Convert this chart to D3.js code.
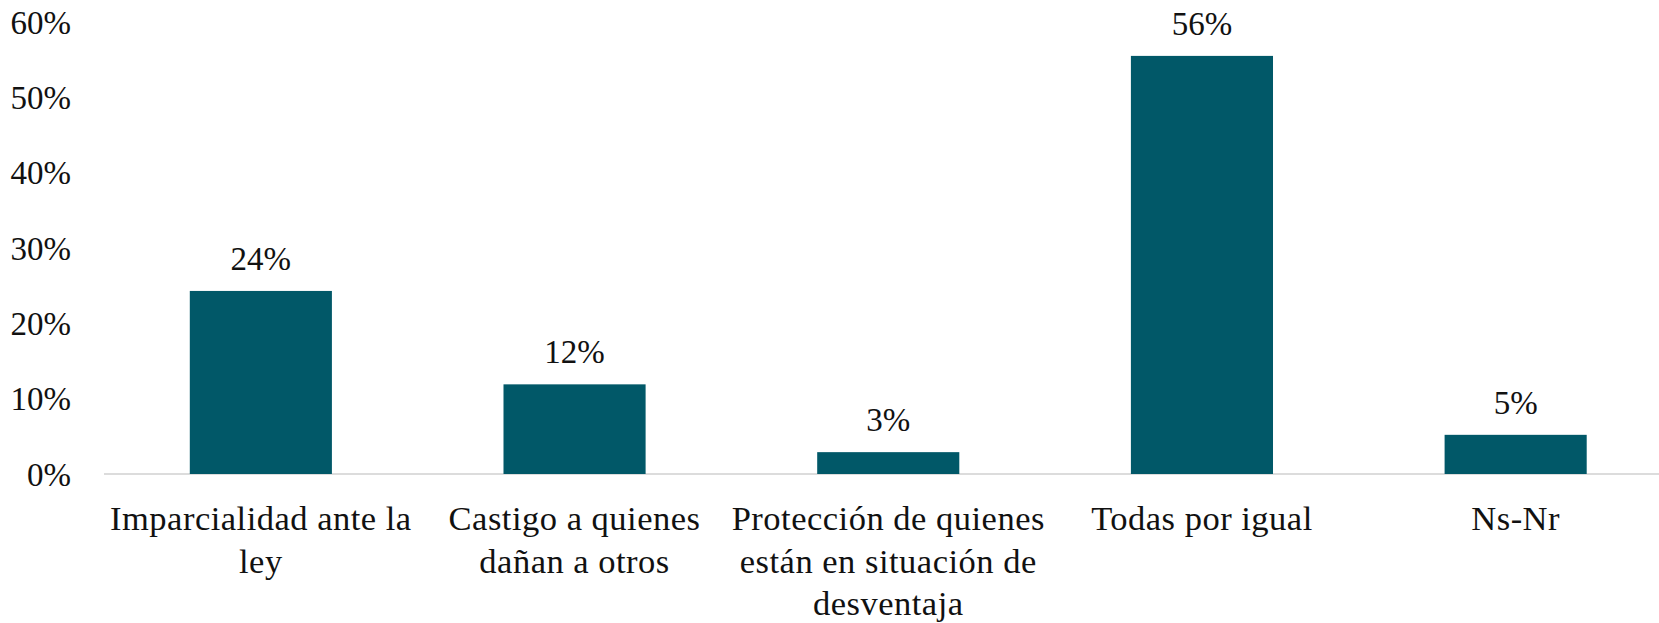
<!DOCTYPE html>
<html><head><meta charset="utf-8">
<script src="https://cdn.jsdelivr.net/npm/d3@7"></script>
<style>
html,body{margin:0;padding:0;background:#fff;}
svg{display:block;}
text{font-family:"Liberation Serif","DejaVu Serif",serif;fill:#111;}
</style></head>
<body>
<svg id="chart" width="1659" height="623"></svg>
<script>
const categories = ["Imparcialidad ante la ley","Castigo a quienes dañan a otros","Protección de quienes están en situación de desventaja","Todas por igual","Ns-Nr"];
const categoryLines = [["Imparcialidad ante la","ley"],["Castigo a quienes","dañan a otros"],["Protección de quienes","están en situación de","desventaja"],["Todas por igual"],["Ns-Nr"]];
const values = [24.3, 11.9, 2.9, 55.5, 5.2];
const valueLabels = ["24%","12%","3%","56%","5%"];
const yTicks = [0,10,20,30,40,50,60];

const svg = d3.select("#chart");
const x0 = 104, bandW = 313.7;
const x = d3.scaleBand().domain(categories).range([x0, x0 + bandW*categories.length]).paddingInner(0.547).paddingOuter(0.2735);
const y = d3.scaleLinear().domain([0,60]).range([474,22]);

// axis line
svg.append("line").attr("x1",x0).attr("x2",1659).attr("y1",y(0)).attr("y2",y(0))
  .attr("stroke","#d0d0d0").attr("stroke-width",1.5);

// y tick labels
const yAxis = d3.axisLeft(y).tickValues(yTicks).tickFormat(d=>d+"%").tickSize(0).tickPadding(0);
const ga = svg.append("g").attr("transform","translate(71,0)").call(yAxis);
ga.select(".domain").remove();
ga.selectAll("text").attr("font-family",'"Liberation Serif","DejaVu Serif",serif').attr("font-size",33).attr("fill","#111").attr("dy","0.34em");

// bars
svg.selectAll("rect.bar").data(values).enter().append("rect").attr("class","bar")
  .attr("x",(d,i)=>x(categories[i])).attr("width",x.bandwidth())
  .attr("y",d=>y(d)).attr("height",d=>y(0)-y(d)).attr("fill","#015868");

// value labels
svg.selectAll("text.vl").data(values).enter().append("text").attr("class","vl")
  .attr("x",(d,i)=>x(categories[i])+x.bandwidth()/2).attr("y",d=>y(d)-21)
  .attr("text-anchor","middle").attr("font-size",33).text((d,i)=>valueLabels[i]);

// category labels
const cg = svg.selectAll("g.cat").data(categories).enter().append("g").attr("class","cat")
  .attr("transform",d=>`translate(${x(d)+x.bandwidth()/2},0)`);
cg.each(function(d,i){
  const g = d3.select(this);
  categoryLines[i].forEach((ln,j)=>{
    g.append("text").attr("x",0).attr("y",530+j*42.5).attr("text-anchor","middle")
      .attr("font-size",34.5).attr("letter-spacing","0.5px").text(ln);
  });
});
</script>
</body></html>
